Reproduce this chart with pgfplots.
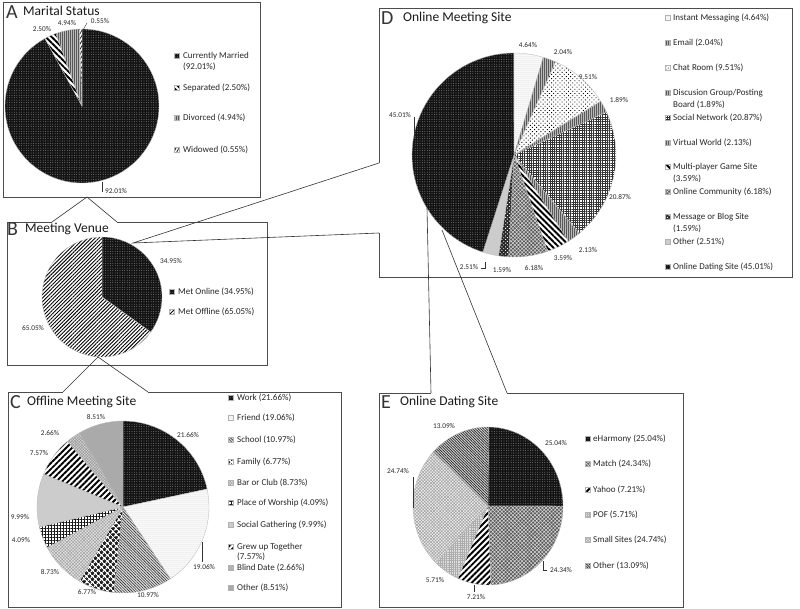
\documentclass[border=0pt]{standalone}
\usepackage{pgfplots}
\pgfplotsset{compat=1.18}
\usepackage{pgfplotstable}
\usetikzlibrary{patterns,patterns.meta}
\usepackage{fontspec}
\setmainfont{Carlito}

\tikzset{
 pBlack/.style={preaction={fill=black!92}, pattern={Dots[radius=0.4pt,distance=2.4pt]}, pattern color=gray!75},
 pStripeNW/.style={preaction={fill=white}, pattern={Lines[angle=-45,distance=4.2pt,line width=1.9pt]}, pattern color=black},
 pStripeNE/.style={preaction={fill=white}, pattern={Lines[angle=45,distance=4.2pt,line width=1.9pt]}, pattern color=black},
 pGrayV/.style={preaction={fill=gray!55}, pattern={Lines[angle=90,distance=2pt,line width=0.6pt]}, pattern color=gray!70!black},
 pWidowed/.style={preaction={fill=white}, pattern={Lines[angle=60,distance=2.6pt,line width=0.7pt]}, pattern color=black},
 pThinNE/.style={preaction={fill=white}, pattern={Lines[angle=45,distance=2.6pt,line width=0.9pt]}, pattern color=black},
 pThinNW/.style={preaction={fill=gray!25}, pattern={Lines[angle=-45,distance=2pt,line width=0.6pt]}, pattern color=black!80},
 pLightDots/.style={preaction={fill=white}, pattern={Dots[radius=0.5pt,distance=2pt]}, pattern color=gray!55},
 pDiamond/.style={preaction={fill=black!90}, pattern={Hatch[angle=45,distance=4pt,line width=1.3pt]}, pattern color=white},
 pLtCross/.style={preaction={fill=gray!20}, pattern={Hatch[angle=45,distance=2.2pt,line width=0.45pt]}, pattern color=gray!75},
 pGrid/.style={preaction={fill=white}, pattern={Hatch[angle=0,distance=3pt,line width=0.45pt]}, pattern color=black!90},
 pFineGrid/.style={preaction={fill=white}, pattern={Hatch[angle=0,distance=2.3pt,line width=0.35pt]}, pattern color=black!80},
 pLtGray/.style={fill=gray!40},
 pBlind/.style={preaction={fill=gray!30}, pattern={Hatch[angle=45,distance=2pt,line width=0.5pt]}, pattern color=gray!80},
 pMidGray/.style={preaction={fill=gray!65}, pattern={Dots[radius=0.3pt,distance=2pt]}, pattern color=gray!80},
 pChat/.style={preaction={fill=white}, pattern={Dots[radius=0.65pt,distance=3pt,angle=45]}, pattern color=black},
 pCheck/.style={preaction={fill=black!65}, pattern={Hatch[angle=45,distance=2.6pt,line width=0.5pt]}, pattern color=gray!30},
 pBlogDots/.style={preaction={fill=black!85}, pattern={Dots[radius=0.7pt,distance=2.6pt,angle=45]}, pattern color=white},
 pPOF/.style={preaction={fill=gray!25}, pattern={Hatch[angle=0,distance=2.2pt,line width=0.5pt]}, pattern color=gray!65},
 pSmall/.style={preaction={fill=gray!12}, pattern={Hatch[angle=45,distance=2.2pt,line width=0.5pt]}, pattern color=gray!75},
 pEOther/.style={preaction={fill=gray!35}, pattern={Lines[angle=-45,distance=1.9pt,line width=0.7pt]}, pattern color=black!85},
 boxline/.style={draw=black!70, line width=0.8pt},
 conn/.style={draw=black!80, line width=0.6pt},
 lbl/.style={font=\fontsize{7.3}{8}\selectfont, text=black!85, inner sep=0pt},
 leg/.style={font=\fontsize{9}{10}\selectfont, text=black!85, anchor=west, inner sep=0pt},
 ttl/.style={font=\fontsize{13.5}{15}\selectfont, text=black!90, anchor=west, inner sep=0pt},
 ltr/.style={font=\fontsize{20}{20}\selectfont, text=black!80, anchor=west, inner sep=0pt},
}

% ---------------- data ----------------
\pgfplotstableread{
v s
92.01 pBlack
2.50 pStripeNW
4.94 pGrayV
0.55 pWidowed
}\tabA
\pgfplotstableread{
v s
34.95 pBlack
65.05 pThinNE
}\tabB
\pgfplotstableread{
v s
21.66 pBlack
19.06 pLightDots
10.97 pThinNW
6.77 pDiamond
8.73 pLtCross
4.09 pGrid
9.99 pLtGray
7.57 pStripeNE
2.66 pBlind
8.51 pMidGray
}\tabC
\pgfplotstableread{
v s
4.64 pLightDots
2.04 pGrayV
9.51 pChat
1.89 pGrayV
20.87 pFineGrid
2.13 pGrayV
3.59 pStripeNW
6.18 pCheck
1.59 pBlogDots
2.51 pLtGray
45.01 pBlack
}\tabD
\pgfplotstableread{
v s
25.04 pBlack
24.34 pCheck
7.21 pStripeNE
5.71 pPOF
24.74 pSmall
13.09 pEOther
}\tabE

% #1 table, #2 cx, #3 cy, #4 rx, #5 ry
\newcommand\drawpie[5]{%
  \pgfplotstablegetrowsof{#1}%
  \pgfmathtruncatemacro\nrows{\pgfplotsretval-1}%
  \def\cum{0}%
  \pgfplotsforeachungrouped \i in {0,...,\nrows}{%
    \pgfplotstablegetelem{\i}{v}\of{#1}\let\val\pgfplotsretval
    \pgfplotstablegetelem{\i}{s}\of{#1}\let\sty\pgfplotsretval
    \pgfmathsetmacro\sa{90-3.6*\cum}%
    \pgfmathsetmacro\cum{\cum+\val}%
    \pgfmathsetmacro\ea{90-3.6*\cum}%
    \edef\cmd{\noexpand\draw[\sty,draw=gray!55,line width=0.35pt] (axis cs:#2,#3) -- ++(\sa:#4pt and #5pt) arc[start angle=\sa,end angle=\ea,x radius=#4pt,y radius=#5pt] -- cycle;}%
    \cmd
  }%
}
\newcommand\legsq[3]{\draw[#3,draw=gray!60,line width=0.3pt] (axis cs:#1,#2) ++(-2.6pt,-2.6pt) rectangle ++(5.2pt,5.2pt);}

\begin{document}
\begin{tikzpicture}
\begin{axis}[width=800pt,height=609pt,scale only axis,xmin=0,xmax=800,ymin=0,ymax=609,
  y dir=reverse,hide axis,clip=false]
\path (axis cs:0,0) rectangle (axis cs:800,609);

% ---------- boxes and connectors ----------
\draw[boxline] (axis cs:3,2) rectangle (axis cs:260,197);
\draw[boxline] (axis cs:52,222) -- (axis cs:7,222) -- (axis cs:7,365) -- (axis cs:267,365) -- (axis cs:267,222) -- (axis cs:117,222);
\draw[boxline] (axis cs:63,392) -- (axis cs:8,392) -- (axis cs:8,607) -- (axis cs:341,607) -- (axis cs:341,392) -- (axis cs:148,392);
\draw[boxline] (axis cs:379,163) -- (axis cs:379,8) -- (axis cs:792,8) -- (axis cs:792,277) -- (axis cs:379,277) -- (axis cs:379,233);
\draw[boxline] (axis cs:431,393) -- (axis cs:379,393) -- (axis cs:379,607) -- (axis cs:683,607) -- (axis cs:683,393) -- (axis cs:507,393);

\draw[conn] (axis cs:52,222) -- (axis cs:87,197) -- (axis cs:117,222);
\draw[conn] (axis cs:63,392) -- (axis cs:98,357) -- (axis cs:148,392);

% ---------- A ----------
\drawpie{\tabA}{82}{106}{77}{77}
\node[ltr] at (axis cs:6,12) {A};
\node[ttl] at (axis cs:23,11) {Marital Status};
\node[lbl] at (axis cs:116,191) {92.01\%};
\draw[conn,line width=0.4pt] (axis cs:102,182) -- (axis cs:102,192);
\node[lbl] at (axis cs:42,29) {2.50\%};
\node[lbl] at (axis cs:67,23) {4.94\%};
\node[lbl] at (axis cs:100,21) {0.55\%};
\draw[conn,line width=0.4pt] (axis cs:83,30) -- (axis cs:87,23);
\legsq{177}{56}{pBlack}
\node[leg] at (axis cs:183,56) {Currently Married};
\node[leg] at (axis cs:183,67) {(92.01\%)};
\legsq{177}{88}{pStripeNW}
\node[leg] at (axis cs:183,88) {Separated (2.50\%)};
\legsq{177}{118}{pGrayV}
\node[leg] at (axis cs:183,118) {Divorced (4.94\%)};
\legsq{177}{150}{pWidowed}
\node[leg] at (axis cs:183,150) {Widowed (0.55\%)};

% ---------- B ----------
\drawpie{\tabB}{102}{297}{60}{60}
\node[ltr] at (axis cs:7,229) {B};
\node[ttl] at (axis cs:25,229) {Meeting Venue};
\node[lbl] at (axis cs:171,261) {34.95\%};
\node[lbl] at (axis cs:33,328) {65.05\%};
\legsq{172}{292}{pBlack}
\node[leg] at (axis cs:178,292) {Met Online (34.95\%)};
\legsq{172}{312}{pThinNE}
\node[leg] at (axis cs:178,312) {Met Offline (65.05\%)};
\draw[conn] (axis cs:379,163) -- (axis cs:133,243) -- (axis cs:379,233);

% ---------- C ----------
\drawpie{\tabC}{123}{507}{86}{86}
\node[ltr] at (axis cs:10,402) {C};
\node[ttl] at (axis cs:27,402) {Offline Meeting Site};
\node[lbl] at (axis cs:96,417) {8.51\%};
\node[lbl] at (axis cs:188,435) {21.66\%};
\node[lbl] at (axis cs:50,433) {2.66\%};
\node[lbl] at (axis cs:39,453) {7.57\%};
\node[lbl] at (axis cs:20,517) {9.99\%};
\node[lbl] at (axis cs:21,540) {4.09\%};
\node[lbl] at (axis cs:50,572) {8.73\%};
\node[lbl] at (axis cs:87,592) {6.77\%};
\node[lbl] at (axis cs:148,595) {10.97\%};
\node[lbl] at (axis cs:204,567) {19.06\%};
\draw[conn,line width=0.4pt] (axis cs:202,542) -- (axis cs:202,562);
\legsq{231}{398}{pBlack}
\node[leg] at (axis cs:237,398) {Work (21.66\%)};
\legsq{231}{418}{pLightDots}
\node[leg] at (axis cs:237,418) {Friend (19.06\%)};
\legsq{231}{440}{pThinNW}
\node[leg] at (axis cs:237,440) {School (10.97\%)};
\legsq{231}{462}{pDiamond}
\node[leg] at (axis cs:237,462) {Family (6.77\%)};
\legsq{231}{483}{pLtCross}
\node[leg] at (axis cs:237,483) {Bar or Club (8.73\%)};
\legsq{231}{503}{pGrid}
\node[leg] at (axis cs:237,503) {Place of Worship (4.09\%)};
\legsq{231}{525}{pLtGray}
\node[leg] at (axis cs:237,525) {Social Gathering (9.99\%)};
\legsq{231}{547}{pStripeNE}
\node[leg] at (axis cs:237,547) {Grew up Together};
\node[leg] at (axis cs:237,557) {(7.57\%)};
\legsq{231}{568}{pBlind}
\node[leg] at (axis cs:237,568) {Blind Date (2.66\%)};
\legsq{231}{588}{pMidGray}
\node[leg] at (axis cs:237,588) {Other (8.51\%)};

% ---------- D ----------
\drawpie{\tabD}{514}{155}{102}{102}
\node[ltr] at (axis cs:381,18) {D};
\node[ttl] at (axis cs:403,18) {Online Meeting Site};
\node[lbl] at (axis cs:528,45) {4.64\%};
\node[lbl] at (axis cs:563,52) {2.04\%};
\node[lbl] at (axis cs:588,77) {9.51\%};
\node[lbl] at (axis cs:619,100) {1.89\%};
\node[lbl] at (axis cs:620,197) {20.87\%};
\node[lbl] at (axis cs:588,250) {2.13\%};
\node[lbl] at (axis cs:563,258) {3.59\%};
\node[lbl] at (axis cs:534,268) {6.18\%};
\node[lbl] at (axis cs:502,270) {1.59\%};
\node[lbl] at (axis cs:469,267) {2.51\%};
\draw[conn,line width=0.4pt] (axis cs:481,268) -- (axis cs:485,268) -- (axis cs:485,262);
\node[lbl] at (axis cs:400,115) {45.01\%};
\draw[conn,line width=0.4pt] (axis cs:414,117) -- (axis cs:414,138);
\legsq{668}{18}{pLightDots}
\node[leg] at (axis cs:673,18) {Instant Messaging (4.64\%)};
\legsq{668}{43}{pGrayV}
\node[leg] at (axis cs:673,43) {Email (2.04\%)};
\legsq{668}{68}{pChat}
\node[leg] at (axis cs:673,68) {Chat Room (9.51\%)};
\legsq{668}{93}{pGrayV}
\node[leg] at (axis cs:673,93) {Discusion Group/Posting};
\node[leg] at (axis cs:673,105) {Board (1.89\%)};
\legsq{668}{118}{pFineGrid}
\node[leg] at (axis cs:673,118) {Social Network (20.87\%)};
\legsq{668}{143}{pGrayV}
\node[leg] at (axis cs:673,143) {Virtual World (2.13\%)};
\legsq{668}{167}{pStripeNW}
\node[leg] at (axis cs:673,167) {Multi-player Game Site};
\node[leg] at (axis cs:673,179) {(3.59\%)};
\legsq{668}{192}{pCheck}
\node[leg] at (axis cs:673,192) {Online Community (6.18\%)};
\legsq{668}{217}{pBlogDots}
\node[leg] at (axis cs:673,217) {Message or Blog Site};
\node[leg] at (axis cs:673,229) {(1.59\%)};
\legsq{668}{242}{pLtGray}
\node[leg] at (axis cs:673,242) {Other (2.51\%)};
\legsq{668}{267}{pBlack}
\node[leg] at (axis cs:673,267) {Online Dating Site (45.01\%)};
\draw[conn] (axis cs:427,208) -- (axis cs:431,393);
\draw[conn] (axis cs:442,230) -- (axis cs:507,393);

% ---------- E ----------
\drawpie{\tabE}{488}{506}{75}{79}
\node[ltr] at (axis cs:381,402) {E};
\node[ttl] at (axis cs:400,402) {Online Dating Site};
\node[lbl] at (axis cs:444,426) {13.09\%};
\node[lbl] at (axis cs:556,443) {25.04\%};
\node[lbl] at (axis cs:398,471) {24.74\%};
\draw[conn,line width=0.4pt] (axis cs:413,477) -- (axis cs:413,508);
\node[lbl] at (axis cs:561,570) {24.34\%};
\draw[conn,line width=0.4pt] (axis cs:543,561) -- (axis cs:543,570) -- (axis cs:547,570);
\node[lbl] at (axis cs:435,580) {5.71\%};
\node[lbl] at (axis cs:476,597) {7.21\%};
\draw[conn,line width=0.4pt] (axis cs:474,585) -- (axis cs:474,592);
\legsq{588}{439}{pBlack}
\node[leg] at (axis cs:593,439) {eHarmony (25.04\%)};
\legsq{588}{464}{pCheck}
\node[leg] at (axis cs:593,464) {Match (24.34\%)};
\legsq{588}{490}{pStripeNE}
\node[leg] at (axis cs:593,490) {Yahoo (7.21\%)};
\legsq{588}{515}{pPOF}
\node[leg] at (axis cs:593,515) {POF (5.71\%)};
\legsq{588}{540}{pSmall}
\node[leg] at (axis cs:593,540) {Small Sites (24.74\%)};
\legsq{588}{566}{pEOther}
\node[leg] at (axis cs:593,566) {Other (13.09\%)};
\end{axis}
\end{tikzpicture}
\end{document}
